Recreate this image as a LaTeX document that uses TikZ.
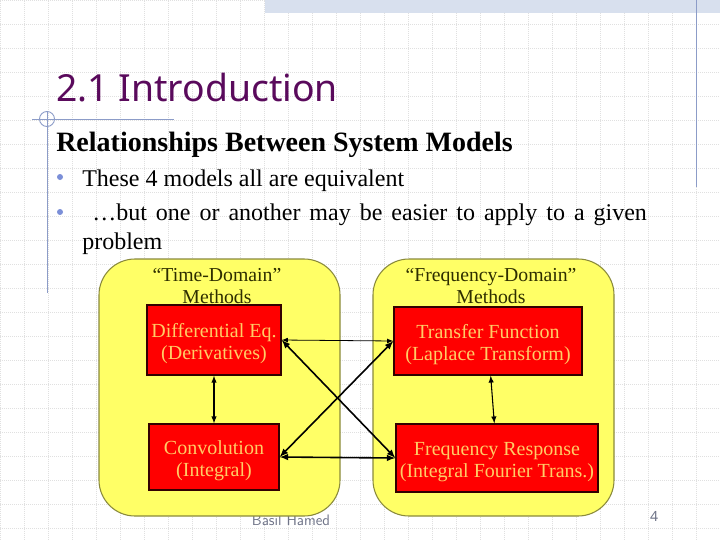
\documentclass[tikz,border=0pt]{standalone}
\usepackage{fontspec}
\setmainfont{Liberation Serif}
\newfontfamily\titlefont{Noto Sans}
\usepackage{xcolor}
\definecolor{titlepurple}{HTML}{5A0A5C}
\definecolor{ruleblue}{HTML}{8C9CC8}
\definecolor{bulletblue}{HTML}{7B8FD8}
\definecolor{griddots}{HTML}{E0E0E0}
\definecolor{bandblue}{HTML}{D8E0EE}
\definecolor{boxyellow}{HTML}{FFFF66}
\definecolor{boxedge}{HTML}{8A8A3C}
\definecolor{boxtext}{HTML}{FFCC66}
\definecolor{headtext}{HTML}{2E2E00}
\definecolor{footgray}{HTML}{6F7488}

\tikzset{
  domainbox/.style={draw=boxedge, fill=boxyellow, line width=.8pt, rounded corners=27pt},
  methodbox/.style={draw=black!80!red, fill=red, line width=1pt, inner sep=0pt, align=center,
    text=boxtext, font=\fontsize{15}{16.6}\selectfont},
  domainlabel/.style={text=headtext, align=center, inner sep=0pt, font=\fontsize{14.8}{16.6}\selectfont},
  bodyline/.style={anchor=base west, inner sep=0pt, font=\fontsize{18}{20}\selectfont},
  link/.style={<->, >=latex, line width=.8pt},
  crosslink/.style={link, line width=1.2pt}
}

\begin{document}
\begin{tikzpicture}[x=.75pt, y=-.75pt]
\useasboundingbox (0,0) rectangle (720,540);
\fill[white] (0,0) rectangle (720,540);
\draw[griddots, densely dotted, line width=.5pt, step=18pt] (0,0) grid (720,540);
\fill[bandblue] (265,0) rectangle (720,13);

\draw[ruleblue, line width=.7pt] (696.5,0) -- (696.5,187);
\draw[ruleblue, line width=.7pt] (47.5,112) -- (47.5,293);
\draw[ruleblue, line width=.7pt] (32,119) -- (174,119);
\draw[ruleblue, line width=.7pt] (47,119) circle (7.5);

\node[anchor=base west, inner sep=0pt, text=titlepurple, font=\titlefont\fontsize{28}{30}\selectfont] (title) at (56,101) {2.1 Introduction};
\node[anchor=base west, inner sep=0pt, font=\bfseries\fontsize{21}{24}\selectfont] (heading) at (56,151) {Relationships Between System Models};

\fill[bulletblue] (60,177) circle (3);
\fill[bulletblue] (60,212) circle (3);
\node[bodyline] (first) at (82,186) {These 4 models all are equivalent};
\node[bodyline] (second) at (92,220) {\makebox[416pt][s]{…but one or another may be easier to apply to a given}};
\node[bodyline] (third) at (82,249) {problem};

\node[anchor=base, inner sep=0pt, text=footgray, font=\sffamily\fontsize{11.4}{12}\selectfont] (author) at (291,525) {Basil Hamed};
\node[anchor=base, inner sep=0pt, text=footgray, font=\titlefont\fontsize{10.5}{12}\selectfont] (pageno) at (654,521) {4};

\draw[domainbox] (99,259) rectangle (340,516);
\draw[domainbox] (373,259) rectangle (614,516);

\node[domainlabel] (timelabel) at (217,286) {“Time-Domain”\\Methods};
\node[domainlabel] (freqlabel) at (491,286) {“Frequency-Domain”\\Methods};

\node[methodbox, minimum width=100.5pt, minimum height=52.5pt] (diffeq) at (214,340) {\rule{0pt}{16pt}Differential Eq.\\(Derivatives)};
\node[methodbox, minimum width=97.5pt, minimum height=49.5pt] (conv) at (214,457) {\rule{0pt}{16pt}Convolution\\(Integral)};
\node[methodbox, minimum width=141pt, minimum height=51pt] (transfer) at (488,341) {\rule{0pt}{16pt}Transfer Function\\(Laplace Transform)};
\node[methodbox, minimum width=151.5pt, minimum height=51pt] (freqresp) at (497,458) {\rule{0pt}{16pt}Frequency Response\\(Integral Fourier Trans.)};

\draw[link] (diffeq) -- (conv);
\draw[link] (transfer) -- (freqresp);
\draw[link, line width=.6pt] (diffeq.east) -- (transfer.west);
\draw[crosslink] (conv.east) -- (freqresp.west);
\draw[crosslink] (diffeq.east) -- (freqresp.west);
\draw[crosslink] (conv.east) -- (transfer.west);
\end{tikzpicture}
\end{document}
